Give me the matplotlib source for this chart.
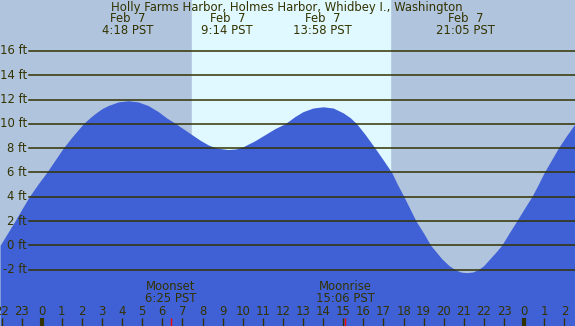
import matplotlib
matplotlib.use("Agg")
import matplotlib.pyplot as plt
import matplotlib.transforms as mtransforms

# Tide height (ft), hours from midnight Feb 7
hours = [-2.07, -1.7, -1.33, -0.98, -0.62, -0.2, 0.25, 0.66, 1.07, 1.5, 2.07,
         2.4, 2.7, 3.0, 3.3, 3.8, 4.3, 4.8, 5.3, 5.55, 5.8, 6.2, 6.68, 7.3,
         7.88, 8.3, 8.71, 9.28, 9.65, 10.0, 10.6, 11.2, 11.6, 12.1, 12.6,
         13.0, 13.5, 14.0, 14.5, 15.0, 15.35, 15.67, 16.1, 16.58, 17.0, 17.41,
         17.7, 18.02, 18.32, 18.62, 19.0, 19.35, 19.9, 20.25, 20.56, 20.85,
         21.14, 21.43, 21.72, 22.0, 22.3, 22.6, 22.88, 23.25, 23.63, 24.0,
         24.38, 24.7, 25.0, 25.35, 25.7, 26.1, 26.53]
height = [0.0, 1.0, 2.0, 3.0, 4.0, 5.0, 6.0, 7.0, 8.0, 8.9, 10.0,
          10.5, 10.9, 11.25, 11.5, 11.8, 11.9, 11.8, 11.5, 11.25, 11.0, 10.5, 10.0, 9.3,
          8.65, 8.25, 8.0, 7.88, 7.93, 8.1, 8.6, 9.2, 9.6, 10.0, 10.6,
          11.0, 11.3, 11.4, 11.3, 10.9, 10.5, 10.0, 9.1, 8.0, 7.0, 6.0,
          5.0, 4.0, 3.0, 2.0, 1.0, 0.0, -1.1, -1.65, -2.0, -2.2,
          -2.25, -2.2, -2.0, -1.65, -1.1, -0.55, 0.0, 1.0, 2.0, 3.0,
          4.0, 5.0, 6.0, 7.0, 8.0, 9.0, 10.0]

# high / low tide labels
extreme_hours = [4.3, 9.233, 13.967, 21.083]
extreme_times = ["4:18 PST", "9:14 PST", "13:58 PST", "21:05 PST"]

# moon events
moon_hours = [6.417, 15.1]
moon_names = ["Moonset", "Moonrise"]
moon_times = ["6:25 PST", "15:06 PST"]

sunrise, sunset = 7.48, 17.33
levels = [-2, 0, 2, 4, 6, 8, 10, 12, 14, 16]
tick_hours = list(range(-2, 27))
tick_labels = [str(h % 24) for h in tick_hours]

title = "Holly Farms Harbor, Holmes Harbor, Whidbey I., Washington"

night_col = "#b0c4de"
day_col = "#e0f8ff"
water_col = "#4060d6"
ink = "#333300"
fs = 8.4

W, H = 575, 326
fig = plt.figure(figsize=(W / 100, H / 100), dpi=100)
ax = fig.add_axes([0, 0, 1, 1])
ax.set_xlim(-2.075, 26.53)
ax.set_ylim(-6.64, 20.19)
ax.axis("off")

ax.axvspan(-5, 30, color=night_col, zorder=0)
ax.axvspan(sunrise, sunset, color=day_col, zorder=1)
ax.fill_between(hours, height, -10, color=water_col, lw=0, zorder=2)

yt = mtransforms.blended_transform_factory(ax.transAxes, ax.transData)
for lv in levels:
    ax.axhline(lv, xmin=29.3 / W, xmax=1, color=ink, lw=1.1, zorder=3)
    ax.text(26.7 / W, lv, f"{lv} ft", transform=yt,
            ha="right", va="center", fontsize=fs, color=ink, zorder=4)

bt = mtransforms.blended_transform_factory(ax.transData, ax.transAxes)

def fy(py):
    return 1 - py / H

ax.text(0.5 * (111 + 463) / W, fy(7), title, transform=ax.transAxes,
        ha="center", va="center", fontsize=fs, color=ink)
for h, t in zip(extreme_hours, extreme_times):
    ax.text(h, fy(19), "Feb  7", transform=bt, ha="center", va="center", fontsize=fs, color=ink)
    ax.text(h, fy(31), t, transform=bt, ha="center", va="center", fontsize=fs, color=ink)

for h, n, t in zip(moon_hours, moon_names, moon_times):
    ax.text(h, fy(287), n, transform=bt, ha="center", va="center", fontsize=fs, color=ink)
    ax.text(h, fy(299), t, transform=bt, ha="center", va="center", fontsize=fs, color=ink)
    ax.vlines(h, 0, 8 / H, transform=bt, color="red", lw=1.0, zorder=5)

for h, lab in zip(tick_hours, tick_labels):
    wide = (h % 24 == 0)
    ax.vlines(h, 0, 8 / H, transform=bt, color=ink, lw=3.0 if wide else 1.0, zorder=5)
    ax.text(h, fy(311.5), lab, transform=bt, ha="center", va="center", fontsize=fs, color=ink)

fig.savefig("out.png", dpi=100)
